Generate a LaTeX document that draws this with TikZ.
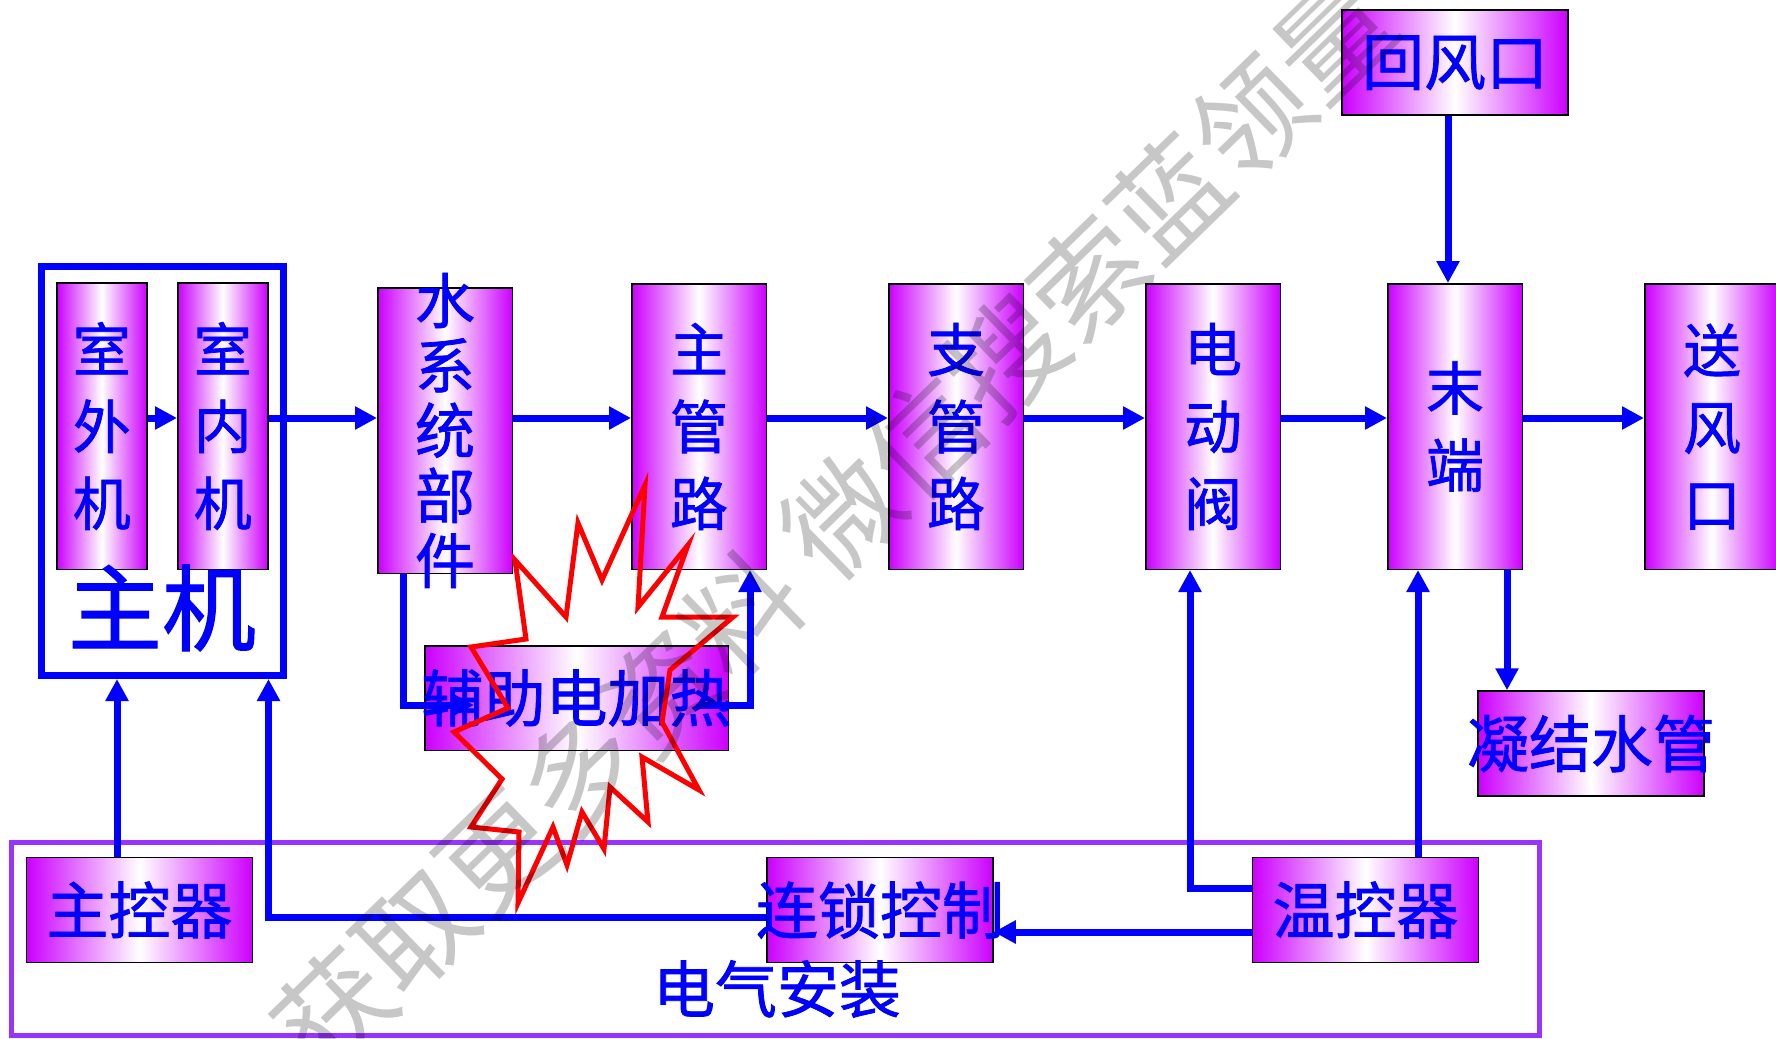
\documentclass[tikz,border=0pt]{standalone}
\usepackage{fontspec}
\setmainfont{Noto Sans CJK SC}
\newfontfamily\heavycjk{Noto Sans CJK SC}[FakeBold=1.2]
\usepackage{xcolor}
\usepackage{tikz}
\usetikzlibrary{positioning, arrows.meta}
\definecolor{boxviolet}{RGB}{204,0,255}
\definecolor{framepurple}{RGB}{153,51,255}

\begin{document}
\begin{tikzpicture}[x=0.5pt, y=-0.5pt,
    unitbox/.style={draw=black, line width=0.75pt, left color=boxviolet, right color=boxviolet, middle color=white, text=blue, inner sep=0pt},
    tallbox/.style={unitbox, minimum width=67.25pt, minimum height=142.75pt, inner ysep=-14pt, align=center, font=\heavycjk\fontsize{29}{38.5}\selectfont},
    flatbox/.style={unitbox, minimum width=113pt, minimum height=52.5pt, inner xsep=-12pt, font=\heavycjk\fontsize{31}{36}\selectfont},
    hostframe/.style={draw=blue, line width=3.5pt},
    elecframe/.style={draw=framepurple, line width=2.5pt},
    bluetext/.style={text=blue, inner sep=0pt},
    flow/.style={draw=blue, line width=3.5pt, -{Triangle[length=11pt, width=11pt]}},
    burst/.style={draw=red, line width=2.5pt, line join=miter},
    wmark/.style={text=black, text opacity=0.22, inner sep=0pt, font=\fontsize{57}{60}\selectfont},
  ]
  \fill[white] (0,0) rectangle (1776,1038);
  \useasboundingbox (0,0) rectangle (1776,1038);

  % frames
  \node[hostframe, minimum width=121.25pt, minimum height=204.5pt] (zj) at (162.25,471) {};
  \node[elecframe, minimum width=764.1pt, minimum height=96.25pt] (dq) at (775.6,938.75) {};

  % host and water side
  \node[tallbox, minimum width=45pt, minimum height=143.25pt] (swj) at (101.75,426) {室\\外\\机};
  \node[tallbox, minimum width=45pt, minimum height=143.25pt, right=14.75pt of swj] (snj) {室\\内\\机};
  \node[bluetext, font=\heavycjk\fontsize{47}{50}\selectfont] (zjtxt) at (162,608) {主机};
  \node[tallbox] (sxt) at (445,430.5) {};
  \node[bluetext, align=center, font=\heavycjk\fontsize{30}{32.5}\selectfont] (sxttxt) at (sxt) {水\\系\\统\\部\\件};
  \node[tallbox] (zgl) at (699,426.5) {主\\管\\路};
  \node[tallbox, right=60.5pt of zgl] (zhgl) {支\\管\\路};
  \node[tallbox, right=60.5pt of zhgl] (ddf) {电\\动\\阀};
  \node[tallbox, right=53pt of ddf] (md) {末\\端};
  \node[tallbox, right=60.5pt of md] (sfk) {送\\风\\口};
  \node[flatbox, above=83.5pt of md] (hfk) {回风口};
  \node[flatbox] (njsg) at (1591,743.5) {凝结水管};
  \node[flatbox, minimum width=151.75pt, minimum height=52.25pt] (fzr) at (576.5,698) {辅助电加热};

  % controls
  \node[flatbox] (zkq) at (139.5,910) {主控器};
  \node[flatbox] (lskz) at (880,910) {连锁控制};
  \node[flatbox, right=129pt of lskz] (wkq) {温控器};
  \node[bluetext, font=\heavycjk\fontsize{31}{36}\selectfont] (dqaz) at (777,989) {电气安装};

  \draw[burst] (515,560) -- (566,617) -- (578,523) -- (602,580) -- (645,485) -- (638,607)
    -- (688,545) -- (662,617) -- (733,617) -- (670,670) -- (662,722) -- (699,790)
    -- (642,757) -- (648,822) -- (610,787) -- (604,849) -- (582,812) -- (567,865)
    -- (553,827) -- (518,903) -- (519,832) -- (471,827) -- (502,779) -- (454,732)
    -- (508,708) -- (471,647) -- (526,639) -- cycle;

  \coordinate (row) at (0,418);
  \draw[flow] (swj.east |- row) -- (snj.west |- row);
  \draw[flow] (snj.east |- row) -- (sxt.west |- row);
  \draw[flow] (sxt.east |- row) -- (zgl.west |- row);
  \draw[flow] (zgl.east |- row) -- (zhgl.west |- row);
  \draw[flow] (zhgl.east |- row) -- (ddf.west |- row);
  \draw[flow] (ddf.east |- row) -- (md.west |- row);
  \draw[flow] (md.east |- row) -- (sfk.west |- row);

  \coordinate (hfkout) at ([xshift=-3.5pt]hfk.south);
  \coordinate (mdout) at ([xshift=26pt]md.south);
  \coordinate (sxtout) at ([xshift=-21pt]sxt.south);
  \coordinate (fzrin) at ([xshift=25pt, yshift=-3.5pt]fzr.west);
  \coordinate (fzrout) at ([xshift=-14.5pt, yshift=-3.5pt]fzr.east);
  \coordinate (zglin) at ([xshift=25.5pt]zgl.south);
  \draw[flow] (hfkout) -- (hfkout |- md.north);
  \draw[flow] (mdout) -- (mdout |- njsg.north);
  \draw[flow] (sxtout) |- (fzrin);
  \draw[flow] (fzrout) -| (zglin);

  \coordinate (zkqout) at ([xshift=-11.25pt]zkq.north);
  \coordinate (lskzout) at ([yshift=-3.5pt]lskz.west);
  \coordinate (wkqa) at ([yshift=11pt]wkq.west);
  \coordinate (wkqb) at ([yshift=-11pt]wkq.west);
  \coordinate (wkqc) at ([xshift=26.25pt]wkq.north);
  \coordinate (ddfin) at ([xshift=-11.5pt]ddf.south);
  \draw[flow] (zkqout) -- (zkqout |- zj.south);
  \draw[flow] (lskzout) -| (snj.east |- zj.south);
  \draw[flow] (wkqa) -| (ddfin);
  \draw[flow] (wkqb) -- (wkqb -| lskz.east);
  \draw[flow] (wkqc) -- (wkqc |- md.south);

  \node[wmark, rotate=44.2] (wm) at (833.5,525) {获取更多资料 微信搜索蓝领量};
\end{tikzpicture}
\end{document}
